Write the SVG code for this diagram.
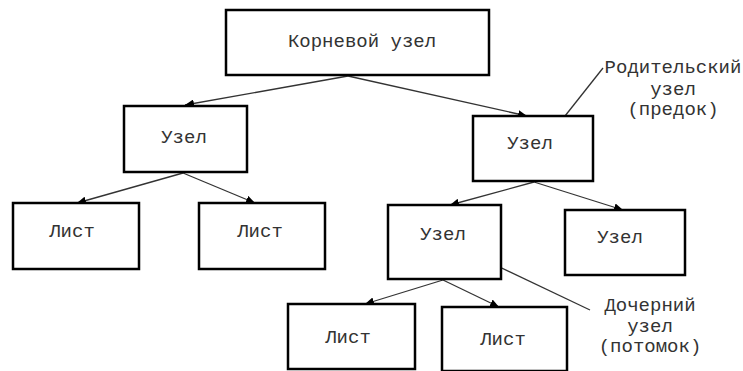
<svg xmlns="http://www.w3.org/2000/svg" width="743" height="371" viewBox="0 0 743 371">
<style>
.box{fill:#fff;stroke:#000;stroke-width:2.5}
.t{font-family:"Liberation Mono","Courier New",monospace;font-size:19px;fill:#333;text-anchor:middle}
.c{stroke:#333;stroke-width:1.3;fill:none}
</style>
<defs>
<marker id="ah" markerUnits="userSpaceOnUse" markerWidth="10" markerHeight="8" refX="9" refY="4" orient="auto">
<path d="M0,0 L9,4 L0,8 z" fill="#000"/>
</marker>
</defs>
<rect width="743" height="371" fill="#fff"/>
<g id="connectors">
<line class="c" x1="348" y1="76" x2="185" y2="105" marker-end="url(#ah)"/>
<line class="c" x1="348" y1="76" x2="527" y2="116" marker-end="url(#ah)"/>
<line class="c" x1="183" y1="173" x2="77" y2="203" marker-end="url(#ah)"/>
<line class="c" x1="183" y1="173" x2="255" y2="203" marker-end="url(#ah)"/>
<line class="c" x1="534" y1="182" x2="450" y2="205" marker-end="url(#ah)"/>
<line class="c" x1="534" y1="182" x2="623" y2="210" marker-end="url(#ah)"/>
<line class="c" x1="443" y1="280" x2="365" y2="304" marker-end="url(#ah)"/>
<line class="c" x1="443" y1="280" x2="499" y2="307" marker-end="url(#ah)"/>
<line class="c" x1="565" y1="116" x2="603" y2="68"/>
<line class="c" x1="487" y1="261" x2="590" y2="310"/>
</g>
<g id="root"><rect class="box" x="226" y="10" width="263" height="65"/><text class="t" x="362" y="47">Корневой узел</text></g>
<g id="node-left"><rect class="box" x="124" y="106" width="123" height="66"/><text class="t" x="184" y="143">Узел</text></g>
<g id="node-right"><rect class="box" x="473" y="116" width="120" height="65"/><text class="t" x="530" y="149">Узел</text></g>
<g id="leaf1"><rect class="box" x="13" y="203" width="126" height="66"/><text class="t" x="72" y="237">Лист</text></g>
<g id="leaf2"><rect class="box" x="199" y="203" width="126" height="66"/><text class="t" x="260" y="237">Лист</text></g>
<g id="node-child"><rect class="box" x="388" y="205" width="113" height="74"/><text class="t" x="443" y="240">Узел</text></g>
<g id="node-right2"><rect class="box" x="565" y="210" width="120" height="65"/><text class="t" x="620" y="243">Узел</text></g>
<g id="leaf3"><rect class="box" x="288" y="304" width="127" height="65"/><text class="t" x="348" y="343">Лист</text></g>
<g id="leaf4"><rect class="box" x="442" y="307" width="125" height="64"/><text class="t" x="503" y="345">Лист</text></g>
<g id="label-parent"><text class="t" x="673" y="73">Родительский</text><text class="t" x="673" y="95">узел</text><text class="t" x="673" y="115">(предок)</text></g>
<g id="label-child"><text class="t" x="650" y="311">Дочерний</text><text class="t" x="650" y="332">узел</text><text class="t" x="650" y="352">(потомок)</text></g>
</svg>
